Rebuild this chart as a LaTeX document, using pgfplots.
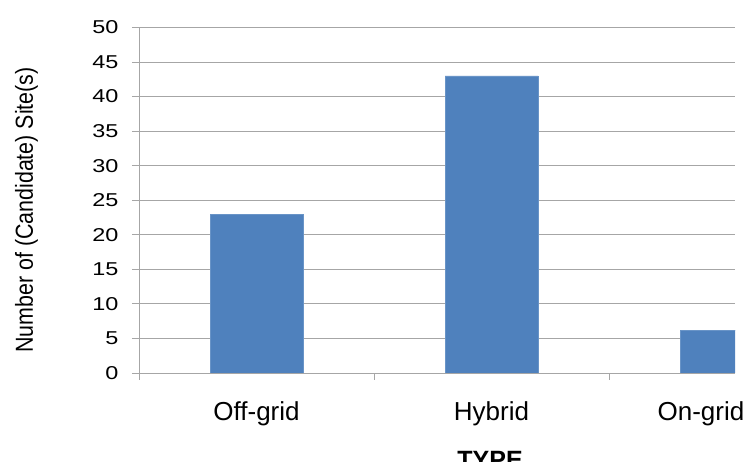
\documentclass[border=0pt]{standalone}
\usepackage{fontspec}
\setmainfont{Liberation Sans}
\newfontfamily\ytickfont[FakeStretch=1.26]{Liberation Sans}
\usepackage{pgfplots}
\pgfplotsset{compat=1.18}
\definecolor{barblue}{RGB}{79,129,189}
\definecolor{gridgray}{RGB}{166,166,166}
\begin{document}
\begin{tikzpicture}
\useasboundingbox (-139pt,-89pt) rectangle (607pt,373pt);
\begin{axis}[
  at={(0pt,0pt)}, anchor=south west,
  scale only axis,
  width=596pt, height=345.5pt,
  xmin=-0.5, xmax=2.036,
  ymin=0, ymax=50,
  ytick={0,5,...,50},
  xtick={-0.5,0.5,1.5},
  xticklabels={},
  extra x ticks={0,1,1.891},
  extra x tick labels={Off-grid,Hybrid,On-grid},
  extra x tick style={major tick length=0pt, tick style={draw=none}},
  tick align=outside,
  major tick length=7pt,
  tick style={draw=gridgray, line width=0.9pt},
  axis x line*=bottom,
  axis y line*=left,
  axis line style={draw=gridgray, line width=0.9pt, -},
  ymajorgrids,
  major grid style={draw=gridgray, line width=0.9pt},
  /pgf/number format/assume math mode=true,
  yticklabel style={font=\ytickfont\fontsize{18.6}{20}\selectfont, anchor=east, xshift=-10pt},
  xticklabel style={font=\fontsize{26}{28}\selectfont, anchor=base, yshift=-48pt},
  ylabel={\scalebox{1}[1.15]{Number of (Candidate) Site(s)}},
  ylabel style={font=\fontsize{21.4}{23}\selectfont, at={(axis description cs:-0.178,0.472)}, anchor=base},
  xlabel={TYPE},
  xlabel style={font=\bfseries\fontsize{25}{27}\selectfont, at={(axis description cs:0.589,-0.275)}, anchor=base},
  ybar, bar width=93pt,
]
\addplot[fill=barblue, draw=barblue!85!white] coordinates {(0,23) (1,43) (2,6.2)};
\end{axis}
\end{tikzpicture}
\end{document}
